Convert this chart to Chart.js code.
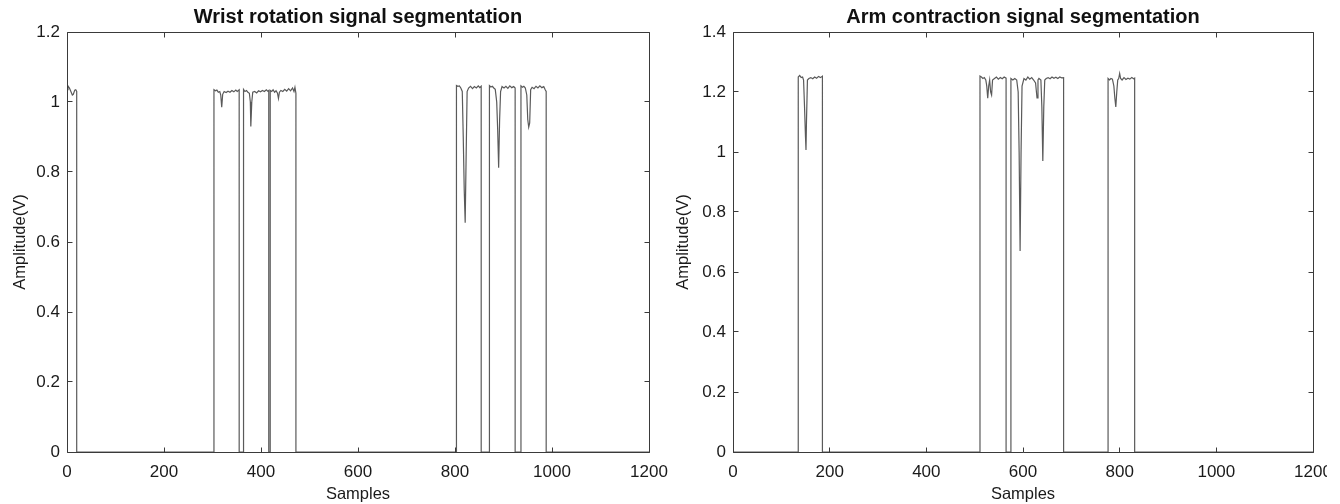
<!DOCTYPE html>
<html><head><meta charset="utf-8">
<script src="https://cdn.jsdelivr.net/npm/chart.js@4.4.1/dist/chart.umd.min.js"></script>
<style>
html,body{margin:0;padding:0;background:#fff;overflow:hidden;width:1340px;height:504px;}
canvas{position:absolute;top:0;}
#c1{left:0;}
#c2{left:670px;}
</style></head><body>
<canvas id="c1" width="670" height="504"></canvas>
<canvas id="c2" width="657" height="504"></canvas>
<script>
// ---- data ----
const sampleTicks = [0, 200, 400, 600, 800, 1000, 1200];
const wristTicks = [0, 0.2, 0.4, 0.6, 0.8, 1, 1.2];
const armTicks = [0, 0.2, 0.4, 0.6, 0.8, 1, 1.2, 1.4];

const wristSamples = [
  0,2,5,8,11,13,16,18,20,20,
  303,303,306,309,312,315,317,319,321,324,328,332,336,340,344,348,351,355,355,
  364,364,367,370,373,376,378,379,381,383,387,391,395,399,403,407,411,414,416,416,
  419,419,422,425,428,431,434,436,438,441,445,449,453,457,461,465,468,470,472,472,
  803,803,806,809,812,815,817,819,821,823,825,828,832,836,840,844,848,851,854,854,
  871,871,874,877,880,883,886,888,890,892,894,897,901,905,909,913,917,921,924,924,
  936,936,939,942,945,948,950,952,954,956,959,963,967,971,975,979,983,986,988,988,
  1200
];
const wristAmp = [
  1.035,1.046,1.04,1.03,1.02,1.022,1.034,1.035,1.03,0,
  0,1.035,1.032,1.034,1.028,1.03,1.02,0.985,1.022,1.03,1.027,1.031,1.028,1.033,1.029,1.034,1.03,1.035,0,
  0,1.036,1.03,1.033,1.028,1.025,1.0,0.93,1.0,1.028,1.03,1.026,1.032,1.029,1.033,1.03,1.035,1.031,1.033,0,
  0,1.033,1.03,1.035,1.028,1.032,1.025,1.01,1.028,1.033,1.03,1.036,1.031,1.038,1.032,1.04,1.03,1.042,1.025,0,
  0,1.047,1.045,1.046,1.04,1.03,0.9,0.75,0.655,0.85,1.03,1.04,1.045,1.038,1.044,1.04,1.046,1.041,1.045,0,
  0,1.047,1.043,1.045,1.04,1.036,1.0,0.92,0.812,0.95,1.03,1.044,1.04,1.045,1.039,1.046,1.041,1.044,1.04,0,
  0,1.046,1.042,1.045,1.04,1.02,0.95,0.928,0.94,1.035,1.042,1.038,1.045,1.04,1.046,1.041,1.044,1.035,1.03,0,
  0
];

const armSamples = [
  0,
  135,135,138,141,144,146,148,150,151,152,154,157,161,165,169,173,177,181,185,185,
  511,511,514,517,520,523,525,527,529,531,533,535,537,541,545,549,553,557,561,565,565,
  575,575,579,583,587,590,592,594,596,598,602,606,610,614,618,622,626,629,631,633,637,639,641,643,645,648,652,656,660,664,668,672,676,680,684,684,
  776,776,779,782,785,788,790,792,794,796,798,800,802,805,809,813,817,821,825,829,831,831,
  1200
];
const armAmp = [
  0,
  0,1.25,1.255,1.248,1.25,1.24,1.15,1.05,1.007,1.1,1.24,1.245,1.248,1.244,1.25,1.246,1.252,1.248,1.253,0,
  0,1.253,1.25,1.245,1.248,1.24,1.22,1.179,1.22,1.24,1.2,1.19,1.24,1.245,1.25,1.243,1.248,1.244,1.25,1.246,0,
  0,1.245,1.24,1.245,1.24,1.2,1.0,0.67,1.0,1.22,1.245,1.24,1.25,1.243,1.248,1.24,1.23,1.18,1.24,1.245,1.24,1.15,0.97,1.15,1.24,1.245,1.248,1.244,1.25,1.246,1.249,1.245,1.25,1.247,1.248,0,
  0,1.245,1.24,1.245,1.243,1.22,1.18,1.15,1.2,1.24,1.245,1.262,1.245,1.24,1.248,1.242,1.246,1.243,1.248,1.244,1.246,0,
  0
];

// ---- styling ----
Chart.defaults.font.family = "'Liberation Sans', Arial, Helvetica, sans-serif";
Chart.defaults.color = '#1a1a1a';

const framePlugin = {
  id: 'frame',
  afterLayout(chart) {
    const t = chart.titleBlock;
    if (t) { t.left = chart.chartArea.left; t.right = chart.chartArea.right; t.width = t.right - t.left; }
  },
  afterDatasetsDraw(chart, args, opts) {
    const {ctx, chartArea: a, scales: {x, y}} = chart;
    const L = Math.floor(a.left) + 0.5, R = Math.floor(a.right) + 0.5;
    const T = Math.floor(a.top) + 0.5, B = Math.floor(a.bottom) + 0.5;
    ctx.save();
    ctx.strokeStyle = '#3a3a3a';
    ctx.lineWidth = 1;
    ctx.beginPath();
    ctx.rect(L, T, R - L, B - T);
    const tl = 5;
    opts.xTicks.forEach(v => {
      const px = Math.floor(x.getPixelForValue(v)) + 0.5;
      ctx.moveTo(px, B); ctx.lineTo(px, B - tl);
      ctx.moveTo(px, T); ctx.lineTo(px, T + tl);
    });
    opts.yTicks.forEach(v => {
      const py = Math.floor(y.getPixelForValue(v)) + 0.5;
      ctx.moveTo(L, py); ctx.lineTo(L + tl, py);
      ctx.moveTo(R, py); ctx.lineTo(R - tl, py);
    });
    ctx.stroke();
    ctx.restore();
  }
};

function makeChart(id, titleText, xs, ys, yTicks, yWidth, yTitlePad, rightPad) {
  const pts = xs.map((s, i) => ({x: s, y: ys[i]}));
  return new Chart(document.getElementById(id), {
    type: 'line',
    data: {datasets: [{
      data: pts, borderColor: '#5a5a5a', borderWidth: 1.2, pointRadius: 0,
      tension: 0, fill: false, clip: 2
    }]},
    options: {
      responsive: false, animation: false, events: [],
      layout: {padding: {left: 0, right: rightPad, top: 0, bottom: 0}},
      plugins: {
        legend: {display: false}, tooltip: {enabled: false},
        title: {display: true, text: titleText, color: '#111',
          font: {size: 20, weight: 'bold'}, padding: {top: 5.5, bottom: 2.5}},
        frame: {xTicks: sampleTicks, yTicks: yTicks}
      },
      scales: {
        x: {
          type: 'linear', min: sampleTicks[0], max: sampleTicks[sampleTicks.length - 1],
          grid: {display: false, drawTicks: false}, border: {display: false},
          afterBuildTicks: s => { s.ticks = sampleTicks.map(v => ({value: v})); },
          afterFit: s => { s.height = 52; s.paddingLeft = 0; s.paddingRight = 0; },
          ticks: {padding: 10, maxRotation: 0, autoSkip: false, font: {size: 17}, color: '#1a1a1a',
            callback: v => String(v)},
          title: {display: true, text: 'Samples', font: {size: 16.5}, color: '#1a1a1a', padding: {top: 0, bottom: 0}}
        },
        y: {
          type: 'linear', min: yTicks[0], max: yTicks[yTicks.length - 1],
          grid: {display: false, drawTicks: false}, border: {display: false},
          afterBuildTicks: s => { s.ticks = yTicks.map(v => ({value: v})); },
          afterFit: s => { s.width = yWidth; s.paddingTop = 0; s.paddingBottom = 0; },
          ticks: {padding: 7, autoSkip: false, font: {size: 17}, color: '#1a1a1a',
            callback: v => String(Math.round(v * 10) / 10)},
          title: {display: true, text: 'Amplitude(V)', font: {size: 16.5}, color: '#1a1a1a', padding: {top: yTitlePad, bottom: 0}}
        }
      }
    },
    plugins: [framePlugin]
  });
}

makeChart('c1', 'Wrist rotation signal segmentation', wristSamples, wristAmp, wristTicks, 67, 10.5, 21);
makeChart('c2', 'Arm contraction signal segmentation', armSamples, armAmp, armTicks, 63, 3.5, 14);
</script>
</body></html>
